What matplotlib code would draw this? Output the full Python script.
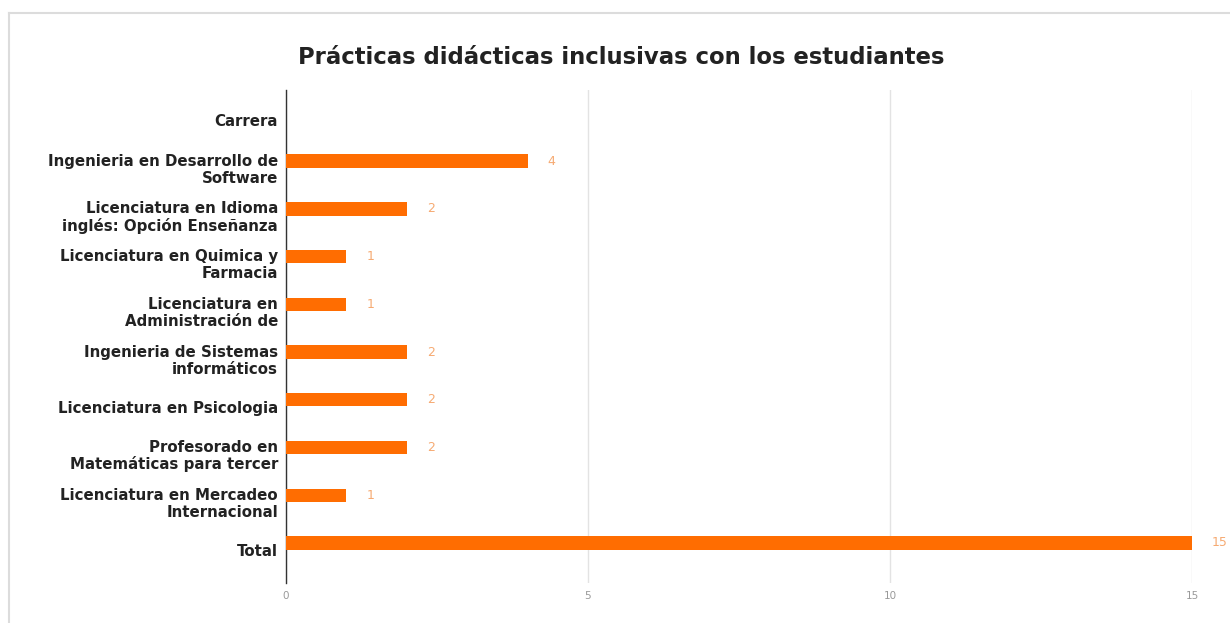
import numpy as np
import matplotlib
matplotlib.use("Agg")
import matplotlib.pyplot as plt
import matplotlib.transforms as mtransforms
from matplotlib.lines import Line2D

# Données
carreras = [
    "Carrera",
    "Ingenieria en Desarrollo de\nSoftware",
    "Licenciatura en Idioma\ninglés: Opción Enseñanza",
    "Licenciatura en Quimica y\nFarmacia",
    "Licenciatura en\nAdministración de",
    "Ingenieria de Sistemas\ninformáticos",
    "Licenciatura en Psicologia",
    "Profesorado en\nMatemáticas para tercer",
    "Licenciatura en Mercadeo\nInternacional",
    "Total",
]
valores = [np.nan, 4, 2, 1, 1, 2, 2, 2, 1, 15]
ticks_x = [0, 5, 10, 15]

TITRE = "Prácticas didácticas inclusivas con los estudiantes"
ORANGE = "#ff6d01"
ORANGE_CLAIR = "#f6aa72"

plt.rcParams['font.family'] = ['DejaVu Sans']

fig = plt.figure(figsize=(12.3, 6.23), dpi=100)
ax = fig.add_axes([0.2325, 0.0642, 0.7366, 0.7913])

y = np.arange(len(carreras))
vals = np.array(valores, dtype=float)
mask = ~np.isnan(vals)

ax.barh(y[mask], vals[mask], height=0.28, color=ORANGE, zorder=3)

# Etiquettes de valeur
for yi, v in zip(y[mask], vals[mask]):
    ax.text(v + 0.33, yi, f"{int(v)}", ha='left', va='center',
            fontsize=9, color=ORANGE_CLAIR, clip_on=False)

ax.set_xlim(0, 15)
ax.set_ylim(len(carreras) - 1 + 0.84, -0.49)

# Grille verticale
ax.set_xticks(ticks_x)
ax.set_xticklabels([str(t) for t in ticks_x])
ax.grid(True, axis='x', color='#e3e3e3', linewidth=1, zorder=0)
ax.tick_params(axis='x', length=0, pad=6, labelsize=7.5, labelcolor='#999999')
ax.set_yticks([])

for s in ['top', 'right', 'bottom']:
    ax.spines[s].set_visible(False)
ax.spines['left'].set_color('#333333')
ax.spines['left'].set_linewidth(1)

# Libellés des catégories : bloc centré un peu sous la barre
trans = mtransforms.blended_transform_factory(ax.transAxes, ax.transData)
for yi, lab in zip(y, carreras):
    lignes = lab.split("\n")
    n = len(lignes)
    for k, ligne in enumerate(lignes):
        dy = 8.5 + 17 * (k - (n - 1) / 2)
        tr = mtransforms.offset_copy(trans, fig=fig, x=-8, y=-dy, units='dots')
        ax.text(0, yi, ligne, transform=tr, ha='right', va='center',
                fontsize=10.8, fontweight='bold', color='#222222')

fig.text(0.505, 0.907, TITRE, ha='center', va='center',
         fontsize=16.4, fontweight='bold', color='#222222')

# Cadre gris clair
fig.add_artist(Line2D([9 / 1230, 9 / 1230], [0, 1 - 13 / 623],
                      transform=fig.transFigure, color='#dcdcdc', linewidth=1.5))
fig.add_artist(Line2D([9 / 1230, 1], [1 - 13 / 623, 1 - 13 / 623],
                      transform=fig.transFigure, color='#dcdcdc', linewidth=1.5))

fig.savefig("out.png", dpi=100, facecolor='white')
